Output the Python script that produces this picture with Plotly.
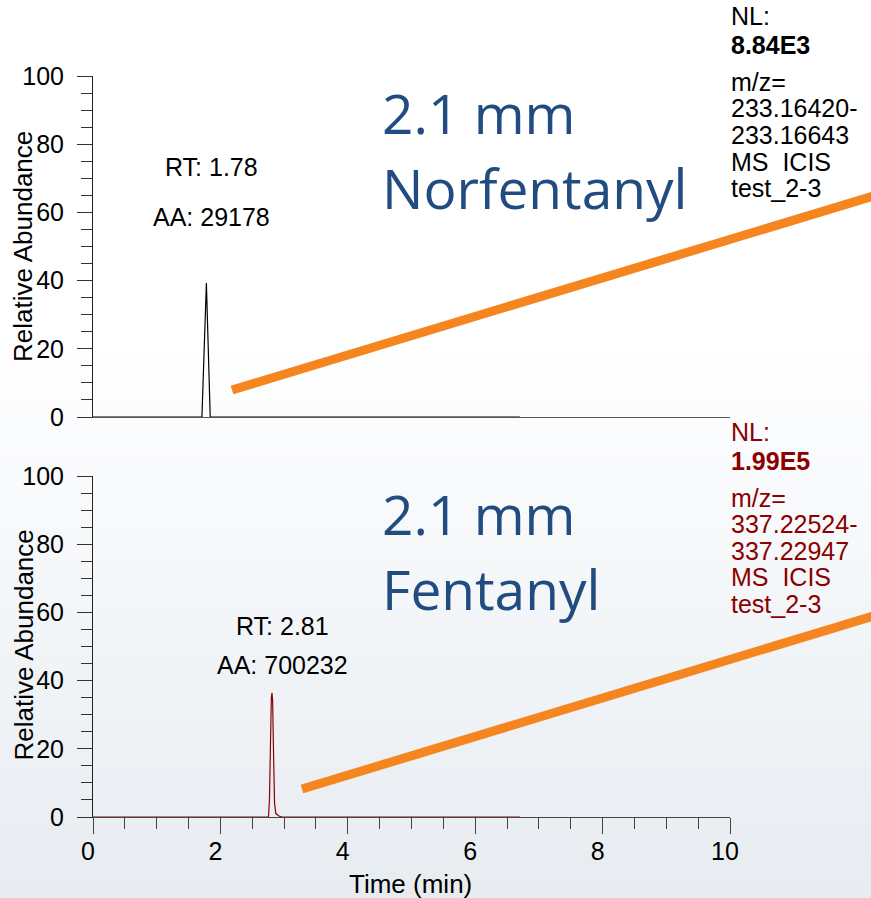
import plotly.graph_objects as go

# ---- chromatogram data (retention time in min, relative abundance in %) ----
norfentanyl_time = [0.0, 1.71, 1.78, 1.84, 6.7]
norfentanyl_abund = [0.0, 0.0, 39.3, 0.0, 0.0]

fentanyl_time = [0.0, 2.755, 2.77, 2.785, 2.80, 2.81, 2.82, 2.835, 2.85, 2.87, 2.92, 2.97, 6.7]
fentanyl_abund = [0.0, 0.0, 5.0, 22.0, 35.0, 36.4, 34.0, 18.0, 4.0, 1.0, 0.3, 0.0, 0.0]

# peak labels
norfentanyl_peak = {"rt": "RT: 1.78", "aa": "AA: 29178"}
fentanyl_peak = {"rt": "RT: 2.81", "aa": "AA: 700232"}

# scan header blocks
norfentanyl_header = ["NL:", "<b>8.84E3</b>", "m/z=", "233.16420-", "233.16643", "MS  ICIS", "test_2-3"]
fentanyl_header = ["NL:", "<b>1.99E5</b>", "m/z=", "337.22524-", "337.22947", "MS  ICIS", "test_2-3"]

panel_titles = [("2.1 mm", "Norfentanyl"), ("2.1 mm", "Fentanyl")]

W, H = 871, 898
SANS = "Liberation Sans, Arial, sans-serif"
BLUE = "#214C80"
DARKRED = "#8B0000"
ORANGE = "#F5861F"


def px(x):
    return x / W


def py(y):
    return 1 - y / H


fig = go.Figure()

fig.add_trace(go.Scatter(x=norfentanyl_time, y=norfentanyl_abund, mode="lines",
                         line=dict(color="black", width=1.2), xaxis="x", yaxis="y",
                         showlegend=False, hoverinfo="skip"))
fig.add_trace(go.Scatter(x=fentanyl_time, y=fentanyl_abund, mode="lines",
                         line=dict(color=DARKRED, width=1.2), xaxis="x2", yaxis="y2",
                         showlegend=False, hoverinfo="skip"))

x_dom = [px(93), px(730)]
tickfont = dict(family=SANS, size=25, color="black")

common_y = dict(range=[0, 100], dtick=20, ticks="outside", ticklen=15, tickwidth=1,
                tickcolor="#333", showline=True, linecolor="#222", linewidth=1,
                showgrid=False, zeroline=False, tickfont=tickfont, automargin=False,
                ticklabelstandoff=8,
                minor=dict(dtick=5, ticks="outside", ticklen=11, tickcolor="#333", showgrid=False))

fig.update_layout(
    template="none",
    width=W, height=H,
    margin=dict(l=0, r=0, t=0, b=0, pad=0, autoexpand=False),
    paper_bgcolor="white",
    plot_bgcolor="rgba(0,0,0,0)",
    xaxis=dict(domain=x_dom, range=[0, 10], anchor="y", showline=True, linecolor="#555",
               linewidth=1, ticks="", showticklabels=False, showgrid=False, zeroline=False,
               automargin=False),
    yaxis=dict(domain=[py(417), py(76)], anchor="x", **common_y),
    xaxis2=dict(domain=x_dom, range=[0, 10], anchor="y2", showline=True, linecolor="#444",
                linewidth=1, dtick=2, ticks="outside", ticklen=16, tickcolor="#444",
                tickfont=tickfont, ticklabelshift=-5, ticklabelstandoff=-4,
                showgrid=False, zeroline=False, automargin=False,
                minor=dict(dtick=0.5, ticks="outside", ticklen=11, tickcolor="#444", showgrid=False)),
    yaxis2=dict(domain=[py(817), py(476)], anchor="x2", **common_y),
)

# soft slide background: white at the top fading to a pale blue-grey
shapes = []
n_bands = 60
start = 330
for i in range(n_bands):
    y0 = start + (H - start) * i / n_bands
    y1 = start + (H - start) * (i + 1) / n_bands + 1
    f = (i + 0.5) / n_bands
    r = round(255 - 24 * f)
    g = round(255 - 19 * f)
    b = round(255 - 14 * f)
    shapes.append(dict(type="rect", xref="paper", yref="paper", x0=0, x1=1,
                       y0=py(y1), y1=py(y0), fillcolor=f"rgb({r},{g},{b})",
                       line=dict(width=0), layer="below"))

# orange pointer strokes
for (x0, y0, x1, y1) in [(232, 390, 880, 194), (302, 789, 880, 614)]:
    shapes.append(dict(type="line", xref="paper", yref="paper",
                       x0=px(x0), y0=py(y0), x1=px(x1), y1=py(y1),
                       line=dict(color=ORANGE, width=9), layer="above"))
fig.update_layout(shapes=shapes)

ann = []


def text(x, y, s, size=25, color="black", xanchor="center", family=SANS, angle=0):
    ann.append(dict(x=px(x), y=py(y), xref="paper", yref="paper", text=s, showarrow=False,
                    xanchor=xanchor, yanchor="middle", textangle=angle,
                    font=dict(family=family, size=size, color=color)))


header_rows = [16, 45, 82, 108.5, 135, 161.5, 188]

for k, (peak, header, hcolor, dy_panel, dy_head, rt_x) in enumerate([
        (norfentanyl_peak, norfentanyl_header, "black", 0, 0, 211),
        (fentanyl_peak, fentanyl_header, DARKRED, 400, 415.5, 282)]):
    rt_y = [166.7, 217] if k == 0 else [626, 665]
    text(rt_x, rt_y[0], peak["rt"])
    text(rt_x, rt_y[1], peak["aa"])
    t1, t2 = panel_titles[k]
    text(380, 113 + dy_panel, t1, size=55, color=BLUE, xanchor="left", family="Open Sans")
    text(380, 187.5 if k == 0 else 588, t2, size=55, color=BLUE, xanchor="left",
         family="Open Sans")
    for line, y in zip(header, header_rows):
        text(729, y + dy_head, line, size=25, color=hcolor, xanchor="left")
    text(23, 247 if k == 0 else 645.5, "Relative Abundance", size=26, angle=-90)

text(410, 884, "Time (min)", size=26)

fig.update_layout(annotations=ann)

fig.write_html("out.html")
